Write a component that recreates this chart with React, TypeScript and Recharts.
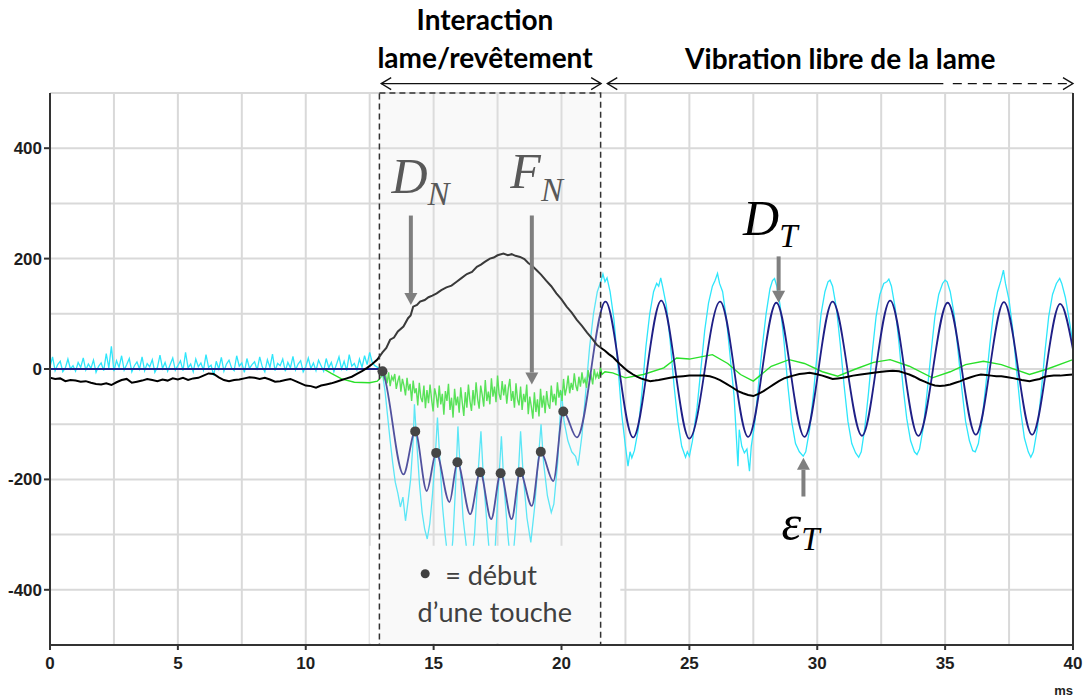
import React from 'react';
import {
  ComposedChart,
  Line,
  XAxis,
  YAxis,
  CartesianGrid,
  ReferenceArea,
  ReferenceLine,
  ReferenceDot,
} from 'recharts';

// axes
const xTicks = [0, 5, 10, 15, 20, 25, 30, 35, 40];
const yTicks = [-400, -200, 0, 200, 400];
const gridX = [2.5, 5, 7.5, 10, 12.5, 15, 17.5, 20, 22.5, 25, 27.5, 30, 32.5, 35, 37.5];
const gridY = [-400, -300, -200, -100, 0, 100, 200, 300, 400, 500];

// D_N (black) : normal displacement
const dnTimes = [
  0, 0.2, 0.4, 0.6, 0.8, 1.0, 1.2, 1.4, 1.6, 1.8, 2.0, 2.2, 2.4, 2.6, 2.8, 3.0, 3.2, 3.4, 3.6, 3.8,
  4.0, 4.2, 4.4, 4.6, 4.8, 5.0, 5.2, 5.4, 5.6, 5.8, 6.0, 6.2, 6.4, 6.6, 6.8, 7.0, 7.2, 7.4, 7.6, 7.8,
  8.0, 8.2, 8.4, 8.6, 8.8, 9.0, 9.2, 9.4, 9.6, 9.8, 10.0, 10.2, 10.4, 10.6, 10.8, 11.0, 11.2, 11.4, 11.6, 11.8,
  12.0, 12.2, 12.4, 12.6, 12.8, 13.0, 13.15, 13.3, 13.45, 13.6, 13.82, 14.0, 14.1, 14.2, 14.35, 14.47, 14.65, 14.8, 14.95, 15.12,
  15.3, 15.5, 15.7, 15.9, 16.1, 16.3, 16.5, 16.69, 16.85, 17.0, 17.2, 17.35, 17.5, 17.73, 17.9, 18.05, 18.2, 18.38, 18.55, 18.7,
  18.85, 19.03, 19.2, 19.4, 19.6, 19.8, 20.0, 20.2, 20.4, 20.6, 20.8, 21.0, 21.2, 21.38, 21.55, 21.7, 21.85, 22.0, 22.15, 22.3,
  22.45, 22.6, 22.8, 22.95, 23.1, 23.3, 23.47, 23.65, 23.8, 24.0, 24.25, 24.5, 24.76, 25.0, 25.3, 25.55, 25.8, 26.0, 26.2, 26.45,
  26.7, 26.9, 27.1, 27.3, 27.5, 27.7, 27.9, 28.1, 28.3, 28.5, 28.7, 28.9, 29.06, 29.3, 29.5, 29.7, 29.95, 30.2, 30.4, 30.6,
  30.8, 31.0, 31.2, 31.4, 31.7, 32.0, 32.35, 32.7, 32.95, 33.2, 33.4, 33.6, 33.8, 34.0, 34.2, 34.4, 34.6, 34.8, 35.0, 35.2,
  35.4, 35.6, 35.8, 36.0, 36.2, 36.4, 36.6, 36.8, 37.0, 37.2, 37.45, 37.7, 38.0, 38.3, 38.5, 38.7, 38.85, 39.0, 39.25, 39.5,
  39.75, 40,
];
const dnValues = [
  -16, -18, -17, -22, -20, -21, -23, -22, -25, -27, -28, -26, -29, -24, -20, -18, -25, -23, -21, -18,
  -20, -22, -19, -21, -17, -19, -16, -20, -17, -16, -12, -8, -9, -15, -20, -22, -20, -19, -17, -15,
  -16, -18, -16, -19, -23, -22, -20, -18, -22, -26, -30, -31, -34, -30, -28, -26, -23, -20, -17, -14,
  -9, -4, 2, 9, 17, 30, 38, 53, 57, 68, 77, 92, 97, 113, 116, 122, 125, 130, 133, 137,
  143, 148, 151, 158, 165, 172, 176, 185, 189, 194, 200, 202, 206, 209, 206, 208, 205, 203, 199, 192,
  187, 179, 171, 160, 150, 137, 126, 113, 102, 89, 78, 66, 55, 44, 38, 33, 27, 22, 15, 8,
  2, -4, -10, -14, -17, -20, -22, -21, -20, -18, -16, -14, -13, -12, -12, -12, -13, -16, -20, -27,
  -34, -40, -44, -47, -49, -45, -40, -34, -28, -22, -17, -14, -12, -9, -8, -7, -9, -12, -15, -18,
  -17, -16, -14, -12, -10, -8, -6, -4, -3, -4, -7, -10, -14, -19, -23, -27, -30, -31, -30, -28,
  -25, -22, -18, -15, -12, -10, -11, -12, -13, -13, -15, -17, -20, -22, -20, -18, -15, -13, -12, -12,
  -11, -10,
];

// D_T (navy) : tangential displacement
const dtTimes = [
  0, 12.9, 13.0, 13.82, 14.28, 14.73, 15.1, 15.62, 15.93, 16.43, 16.82, 17.25, 17.62, 18.05, 18.38, 18.84,
  19.19, 19.68, 20.07, 20.6, 21.72, 22.8, 23.9, 25.0, 26.2, 27.3, 28.4, 29.5, 30.6, 31.75, 32.85, 33.95,
  35.1, 36.2, 37.3, 38.4, 39.5, 40,
];
const dtValues = [
  0, 0, -4, -191, -113, -221, -152, -241, -169, -263, -187, -272, -189, -272, -187, -248,
  -150, -203, -77, -124, 122, -124, 124, -126, 122, -123, 120, -123, 122, -121, 124, -121,
  120, -119, 121, -119, 118, 35,
];

// epsilon_T (cyan) : strain, baseline sampled every 0.1 ms from 0 ms
const etBaseStart = 0;
const etBaseStep = 0.1;
const etBase = [
  4, 22, -3, 8, 14, -5, 2, 18, 0, 6,
  -4, 12, 3, 20, -2, 9, 1, 16, -6, 5,
  11, -3, 28, 2, 41, -4, 15, 3, 24, -2,
  8, 19, -5, 6, 13, 0, 22, -3, 10, 4,
  17, -6, 3, 25, 1, 12, -4, 8, 20, -2,
  6, 15, -3, 30, 2, 9, -5, 18, 4, 11,
  -2, 26, 3, 7, -12, 14, 0, 21, -4, 9,
  16, 2, -3, 24, 5, 11, -6, 19, 1, 8,
  13, -2, 22, 4, -5, 17, 3, 27, -3, 10,
  6, 18, -4, 12, 2, 23, -2, 9, 15, -5,
  4, 20, 1, 11, -3, 16, 6, -4, 19, 2,
  12, -5, 8, 22, 0, 14, -3, 26, 5, 10,
  -2, 18, 3, 24, 8, 30, 12, 6,
];
const etTimes = [
  12.85, 12.95, 13.0, 13.1, 13.2, 13.3, 13.4, 13.5, 13.6, 13.7, 13.8, 13.9, 14.0, 14.1, 14.2, 14.25,
  14.35, 14.45, 14.55, 14.65, 14.75, 14.85, 14.95, 15.05, 15.15, 15.25, 15.35, 15.45, 15.55, 15.65, 15.75, 15.85,
  15.95, 16.05, 16.15, 16.3, 16.45, 16.6, 16.75, 16.85, 16.95, 17.1, 17.25, 17.4, 17.5, 17.65, 17.75, 17.9,
  18.05, 18.2, 18.3, 18.4, 18.5, 18.65, 18.8, 18.95, 19.1, 19.2, 19.3, 19.45, 19.6, 19.7, 19.85, 20.0,
  20.1, 20.25, 20.4, 20.55, 20.65, 20.8, 20.95, 21.1, 21.25, 21.4, 21.55, 21.62, 21.7, 21.78, 21.9, 22.05,
  22.2, 22.35, 22.5, 22.6, 22.68, 22.75, 22.85, 23.0, 23.15, 23.3, 23.45, 23.6, 23.72, 23.8, 23.88, 23.95,
  24.1, 24.25, 24.4, 24.55, 24.7, 24.85, 24.92, 25.0, 25.12, 25.3, 25.45, 25.6, 25.75, 25.9, 26.0, 26.1,
  26.18, 26.3, 26.45, 26.6, 26.75, 26.9, 26.95, 27.05, 27.15, 27.25, 27.35, 27.42, 27.55, 27.7, 27.85, 28.0,
  28.15, 28.25, 28.33, 28.42, 28.55, 28.7, 28.85, 29.0, 29.15, 29.3, 29.45, 29.55, 29.7, 29.85, 30.0, 30.15,
  30.3, 30.42, 30.5, 30.6, 30.75, 30.9, 31.05, 31.2, 31.35, 31.5, 31.62, 31.72, 31.85, 32.0, 32.15, 32.3,
  32.45, 32.6, 32.72, 32.8, 32.9, 33.05, 33.2, 33.35, 33.5, 33.65, 33.8, 33.9, 34.0, 34.15, 34.3, 34.45,
  34.6, 34.75, 34.9, 35.0, 35.08, 35.2, 35.35, 35.5, 35.65, 35.8, 35.95, 36.08, 36.18, 36.3, 36.45, 36.6,
  36.75, 36.9, 37.05, 37.18, 37.28, 37.36, 37.5, 37.65, 37.8, 37.95, 38.1, 38.25, 38.35, 38.45, 38.6, 38.75,
  38.9, 39.05, 39.2, 39.35, 39.48, 39.56, 39.7, 39.85, 40,
];
const etValues = [
  2, -12, -8, -40, -85, -130, -170, -205, -225, -250, -232, -275, -240, -200, -130, -64,
  -140, -210, -260, -290, -308, -280, -230, -170, -88, -170, -250, -300, -340, -360, -310, -220,
  -104, -190, -270, -330, -370, -300, -180, -113, -200, -290, -370, -330, -240, -122, -210, -300,
  -370, -290, -200, -113, -190, -270, -314, -250, -160, -100, -170, -230, -260, -245, -170, -40,
  -95, -130, -150, -158, -175, -120, -40, 40, 100, 140, 160, 172, 158, 165, 140, 90,
  10, -80, -140, -176, -150, -161, -148, -110, -40, 40, 100, 140, 155, 150, 165, 150,
  115, 50, -30, -95, -140, -160, -150, -158, -130, -70, 0, 70, 120, 150, 160, 173,
  155, 140, 90, 20, -50, -176, -110, -140, -152, -145, -185, -140, -100, -30, 40, 100,
  145, 160, 164, 150, 115, 50, -30, -95, -135, -150, -158, -150, -110, -45, 30, 100,
  140, 158, 161, 150, 110, 45, -30, -95, -135, -152, -160, -150, -110, -45, 30, 95,
  135, 155, 158, 163, 150, 110, 45, -30, -90, -130, -150, -155, -145, -105, -40, 30,
  95, 135, 155, 161, 158, 140, 100, 35, -35, -95, -130, -148, -150, -135, -90, -25,
  45, 105, 140, 160, 179, 155, 125, 70, -5, -75, -125, -150, -160, -150, -110, -45,
  30, 95, 135, 155, 164, 155, 130, 90, 45,
];

// F_N (green) : normal force
const fnStartTimes = [0, 10.7, 11.0, 11.4, 11.9, 12.5, 12.8, 12.94];
const fnStartValues = [0, 0, -8, -18, -24, -25, -22, -15];
// contact part, sampled every 0.06 ms from 13.0 ms
const fnNoiseStart = 13.0;
const fnNoiseStep = 0.06;
const fnNoise = [
  -4, -18, -10, -26, -6, -31, -14, -20, -9, -36,
  -22, -12, -41, -18, -30, -48, -16, -39, -27, -58,
  -21, -44, -35, -66, -25, -52, -60, -30, -71, -38,
  -62, -28, -55, -77, -35, -48, -70, -30, -64, -45,
  -83, -40, -58, -27, -74, -52, -88, -36, -66, -50,
  -79, -33, -61, -85, -42, -70, -28, -58, -76, -38,
  -66, -24, -54, -72, -30, -47, -68, -20, -58, -41,
  -64, -17, -50, -32, -60, -12, -45, -56, -22, -48,
  -28, -63, -35, -18, -58, -40, -70, -26, -55, -66,
  -32, -74, -45, -60, -28, -82, -50, -68, -90, -42,
  -78, -55, -86, -36, -70, -48, -80, -40, -64, -72,
  -30, -60, -45, -66, -24, -52, -38, -58, -18, -48,
  -34, -12, -44, -25, -38, -8, -30, -40, -14, -32,
  -6, -26, -18, -34, -2, -20, -12, -28, 0, -16,
  -8, -18, 3, -10,
];
const fnEndTimes = [
  21.7, 22.0, 22.5, 23.2, 24.0, 24.5, 25.0, 25.9, 26.5, 27.0, 27.5, 28.2, 28.9, 29.5,
  30.2, 30.8, 31.5, 32.2, 32.85, 33.6, 34.5, 35.2, 35.8, 36.5, 37.2, 38.3, 39.0, 40,
];
const fnEndValues = [
  -5, -7, -16, -10, 2, 20, 18, 26, 10, -10, -22, 5, 17, 10,
  -5, -13, 0, 12, 17, 5, -16, -5, 8, 14, 8, -10, 0, 17,
];

// "début d'une touche" markers
const touchTimes = [13.0, 14.28, 15.1, 15.93, 16.82, 17.62, 18.38, 19.19, 20.07];
const touchValues = [-4, -113, -152, -169, -187, -189, -187, -150, -77];

const rows = (ts: number[], vs: number[]) => ts.map((t, i) => ({ t, v: vs[i] }));
const sampled = (start: number, step: number, vs: number[]) =>
  vs.map((v, i) => ({ t: +(start + i * step).toFixed(3), v }));

const dnData = rows(dnTimes, dnValues);
const dtData = rows(dtTimes, dtValues);
const etData = [...sampled(etBaseStart, etBaseStep, etBase), ...rows(etTimes, etValues)];
const fnData = [
  ...rows(fnStartTimes, fnStartValues),
  ...sampled(fnNoiseStart, fnNoiseStep, fnNoise),
  ...rows(fnEndTimes, fnEndValues),
];

const titleFont = 'Lato';
const mathFont = 'Liberation Serif';
const tickFont = { fontFamily: 'Liberation Sans', fontSize: 17, fontWeight: 'bold', fill: '#1e1e1e' };

const XTick = (p: any) => (
  <text x={p.x} y={p.y} dy={14} textAnchor="middle" {...tickFont}>
    {p.payload.value}
  </text>
);
const YTick = (p: any) => (
  <text x={p.x} y={p.y} dy={6} textAnchor="end" {...tickFont}>
    {p.payload.value}
  </text>
);

const grayArrow = (p: any) => {
  const { x1, y1, x2, y2 } = p;
  const dir = Math.sign(y2 - y1);
  const base = y2 - dir * 12;
  return (
    <g>
      <line x1={x1} y1={y1} x2={x2} y2={base} stroke="#7f7f7f" strokeWidth={4} />
      <polygon points={`${x2 - 6.5},${base} ${x2 + 6.5},${base} ${x2},${y2}`} fill="#7f7f7f" />
    </g>
  );
};

const spanArrow = (left: boolean, right: boolean, dashed: boolean) => (p: any) => {
  const { x1, y1, x2 } = p;
  return (
    <g stroke="#111" strokeWidth={1.3} fill="none">
      <line x1={x1} y1={y1} x2={x2} y2={y1} strokeDasharray={dashed ? '9 6' : undefined} />
      {left && <polyline points={`${x1 + 10},${y1 - 6} ${x1},${y1} ${x1 + 10},${y1 + 6}`} />}
      {right && <polyline points={`${x2 - 10},${y1 - 6} ${x2},${y1} ${x2 - 10},${y1 + 6}`} />}
    </g>
  );
};

const textAt = (content: React.ReactNode, props: any) => (p: any) => (
  <text x={p.cx} y={p.cy} {...props}>
    {content}
  </text>
);

const symbol = (main: string, sub: string, color: string, dy: number) =>
  textAt(
    <>
      {main}
      <tspan fontSize={33} dy={dy}>
        {sub}
      </tspan>
    </>,
    { fontFamily: mathFont, fontStyle: 'italic', fontSize: 50, fill: color }
  );

export default function App() {
  return (
    <div style={{ position: 'absolute', left: 0, top: 0, width: 1087, height: 699, background: '#fff' }}>
      <ComposedChart width={1087} height={699} margin={{ top: 93, right: 14, bottom: 0, left: 0 }}>
        <CartesianGrid stroke="#d9d9d9" strokeWidth={2} horizontalValues={gridY} verticalValues={gridX} />
        <XAxis
          type="number"
          dataKey="t"
          domain={[0, 40]}
          ticks={xTicks}
          height={54}
          tickSize={5}
          tickMargin={5}
          tick={XTick}
          stroke="#333"
          strokeWidth={2}
          allowDataOverflow
        />
        <YAxis
          type="number"
          dataKey="v"
          domain={[-500, 500]}
          ticks={yTicks}
          width={50}
          tickSize={6}
          tickMargin={2}
          tick={YTick}
          stroke="#333"
          strokeWidth={2}
          allowDataOverflow
        />
        <Line data={etData} dataKey="v" type="linear" stroke="#2ee6fb" strokeWidth={1.3} dot={false} activeDot={false} isAnimationActive={false} />
        <Line data={fnData} dataKey="v" type="linear" stroke="#2ae02a" strokeWidth={1.4} dot={false} activeDot={false} isAnimationActive={false} />
        <Line data={dtData} dataKey="v" type="monotone" stroke="#1f1f86" strokeWidth={1.8} dot={false} activeDot={false} isAnimationActive={false} />
        <Line data={dnData} dataKey="v" type="linear" stroke="#000" strokeWidth={2} dot={false} activeDot={false} isAnimationActive={false} />

        {/* legend box of the markers hides the lower part of the traces */}
        <ReferenceArea x1={12.5} x2={22.3} y1={-497} y2={-320} fill="#ffffff" fillOpacity={1} stroke="none" zIndex={450} />
        {/* contact zone */}
        <ReferenceArea
          x1={12.88}
          x2={21.53}
          y1={-500}
          y2={500}
          fill="#e8e8e8"
          fillOpacity={0.25}
          stroke="#333"
          strokeWidth={1.5}
          strokeDasharray="6 4"
          zIndex={460}
        />
        {touchTimes.map((t, i) => (
          <ReferenceDot key={t} x={t} y={touchValues[i]} r={5} fill="#454545" stroke="none" zIndex={470} />
        ))}
        <ReferenceLine x={40} stroke="#333" strokeWidth={2} zIndex={480} />

        {/* arrows */}
        <ReferenceLine segment={[{ x: 14.11, y: 278 }, { x: 14.11, y: 116 }]} shape={grayArrow} ifOverflow="visible" zIndex={490} />
        <ReferenceLine segment={[{ x: 18.84, y: 278 }, { x: 18.84, y: -28 }]} shape={grayArrow} ifOverflow="visible" zIndex={490} />
        <ReferenceLine segment={[{ x: 28.49, y: 204 }, { x: 28.49, y: 120 }]} shape={grayArrow} ifOverflow="visible" zIndex={490} />
        <ReferenceLine segment={[{ x: 29.46, y: -231 }, { x: 29.46, y: -161 }]} shape={grayArrow} ifOverflow="visible" zIndex={490} />
        <ReferenceLine segment={[{ x: 12.95, y: 517 }, { x: 21.55, y: 517 }]} shape={spanArrow(true, true, false)} ifOverflow="visible" zIndex={490} />
        <ReferenceLine segment={[{ x: 21.79, y: 517 }, { x: 34.93, y: 517 }]} shape={spanArrow(true, false, false)} ifOverflow="visible" zIndex={490} />
        <ReferenceLine segment={[{ x: 35.3, y: 517 }, { x: 40, y: 517 }]} shape={spanArrow(false, true, true)} ifOverflow="visible" zIndex={490} />

        {/* texts */}
        <ReferenceDot x={17.01} y={615} ifOverflow="visible" zIndex={2000}
          shape={textAt('Interaction', { fontFamily: titleFont, fontWeight: 'bold', fontSize: 28, fill: '#000', textAnchor: 'middle' })} />
        <ReferenceDot x={17.01} y={546} ifOverflow="visible" zIndex={2000}
          shape={textAt('lame/revêtement', { fontFamily: titleFont, fontWeight: 'bold', fontSize: 28, fill: '#000', textAnchor: 'middle' })} />
        <ReferenceDot x={30.9} y={544} ifOverflow="visible" zIndex={2000}
          shape={textAt('Vibration libre de la lame', { fontFamily: titleFont, fontWeight: 'bold', fontSize: 28, fill: '#000', textAnchor: 'middle' })} />
        <ReferenceDot x={13.35} y={319} ifOverflow="visible" zIndex={2000} shape={symbol('D', 'N', '#595959', 12)} />
        <ReferenceDot x={18.0} y={327} ifOverflow="visible" zIndex={2000} shape={symbol('F', 'N', '#595959', 13)} />
        <ReferenceDot x={27.1} y={243} ifOverflow="visible" zIndex={2000} shape={symbol('D', 'T', '#000', 12)} />
        <ReferenceDot x={28.6} y={-309} ifOverflow="visible" zIndex={2000} shape={symbol('ε', 'T', '#000', 10)} />
        <ReferenceDot x={14.67} y={-371} r={4.5} fill="#404040" stroke="none" zIndex={2000} />
        <ReferenceDot x={15.45} y={-391.5} ifOverflow="visible" zIndex={2000}
          shape={textAt('= début', { fontFamily: titleFont, fontSize: 27, fill: '#404040' })} />
        <ReferenceDot x={17.39} y={-457.5} ifOverflow="visible" zIndex={2000}
          shape={textAt('d’une touche', { fontFamily: titleFont, fontSize: 27, fill: '#404040', textAnchor: 'middle' })} />
        <ReferenceDot x={40} y={-590} ifOverflow="visible" zIndex={2000}
          shape={textAt('ms', { fontFamily: 'Liberation Sans', fontWeight: 'bold', fontSize: 13, fill: '#1e1e1e', textAnchor: 'end' })} />
      </ComposedChart>
    </div>
  );
}
